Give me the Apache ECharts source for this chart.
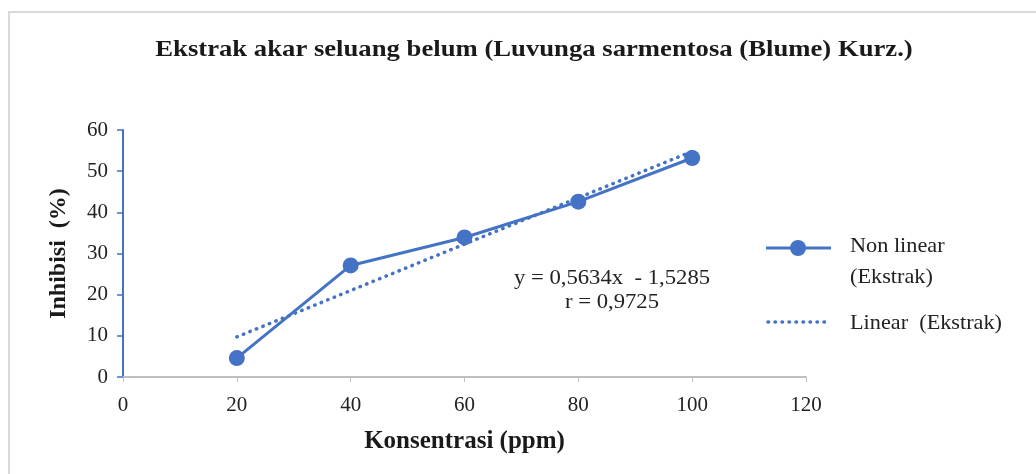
<!DOCTYPE html>
<html>
<head>
<meta charset="utf-8">
<script src="https://cdn.jsdelivr.net/npm/echarts@6/dist/echarts.min.js"></script>
<style>
  html, body { margin: 0; padding: 0; background: #fff; }
  #chart { width: 1036px; height: 474px; }
</style>
</head>
<body>
<div id="chart"></div>
<script>
// Concentration (ppm) and measured inhibition (%)
const konsentrasi = [20, 40, 60, 80, 100];
const inhibisi = [4.6, 27.1, 33.9, 42.6, 53.2];

// Linear regression coefficients as printed on the chart
const slope = 0.5634;
const intercept = -1.5285;
const rValue = '0,9725';

const xTicks = [0, 20, 40, 60, 80, 100, 120];
const yTicks = [0, 10, 20, 30, 40, 50, 60];

const blue = '#4472C4';
const serif = '"Liberation Serif", "Times New Roman", serif';
const ink = '#1a1a1a';
const dots = [0.5, 6.5];

const measured = konsentrasi.map((x, i) => [x, inhibisi[i]]);
const xFirst = konsentrasi[0];
const xLast = konsentrasi[konsentrasi.length - 1];
const trend = [
  [xFirst, slope * xFirst + intercept],
  [xLast, slope * xLast + intercept]
];

const chart = echarts.init(document.getElementById('chart'), null, { renderer: 'canvas' });

chart.setOption({
  animation: false,
  backgroundColor: '#fff',
  grid: { left: 123, right: 230, top: 130, bottom: 97 },
  xAxis: {
    type: 'value',
    min: xTicks[0],
    max: xTicks[xTicks.length - 1],
    interval: 20,
    name: 'Konsentrasi (ppm)',
    nameLocation: 'middle',
    nameGap: 52,
    nameTextStyle: { fontFamily: serif, fontWeight: 'bold', fontSize: 25, color: ink },
    axisLine: { show: true, onZero: false, lineStyle: { color: '#bfbfbf', width: 2 } },
    axisTick: { show: true, length: 5, lineStyle: { color: '#bfbfbf', width: 1 } },
    axisLabel: { fontFamily: serif, fontSize: 21, color: '#222', margin: 18 },
    splitLine: { show: false }
  },
  yAxis: {
    type: 'value',
    min: yTicks[0],
    max: yTicks[yTicks.length - 1],
    interval: 10,
    name: 'Inhibisi  (%)',
    nameLocation: 'middle',
    nameGap: 52,
    nameTextStyle: { fontFamily: serif, fontWeight: 'bold', fontSize: 24, color: ink },
    axisLine: { show: true, lineStyle: { color: blue, width: 2 } },
    axisTick: { show: true, length: 6, lineStyle: { color: blue, width: 1.5 } },
    axisLabel: { fontFamily: serif, fontSize: 21, color: '#222', margin: 15 },
    splitLine: { show: false }
  },
  series: [
    {
      name: 'Linear  (Ekstrak)',
      type: 'line',
      data: trend,
      symbol: 'none',
      z: 2,
      lineStyle: { color: blue, width: 3.5, type: dots, cap: 'round' }
    },
    {
      name: 'Non linear (Ekstrak)',
      type: 'line',
      data: measured,
      symbol: 'circle',
      symbolSize: 16,
      z: 3,
      itemStyle: { color: blue },
      lineStyle: { color: blue, width: 3 }
    }
  ],
  graphic: [
    // chart frame edges
    { type: 'line', shape: { x1: 8, y1: 12, x2: 1036, y2: 12 }, style: { stroke: '#d9d9d9', lineWidth: 2 } },
    { type: 'line', shape: { x1: 9, y1: 12, x2: 9, y2: 474 }, style: { stroke: '#d9d9d9', lineWidth: 2 } },
    // title
    {
      type: 'text', x: 534, y: 50, scaleX: 1.16,
      style: {
        text: 'Ekstrak akar seluang belum (Luvunga sarmentosa (Blume) Kurz.)',
        align: 'center', verticalAlign: 'middle',
        fontFamily: serif, fontWeight: 'bold', fontSize: 23, fill: ink
      }
    },
    // regression equation
    {
      type: 'text', x: 612, y: 266, scaleX: 1.08,
      style: {
        text: 'y = 0,5634x  - 1,5285\nr = ' + rValue,
        align: 'center',
        fontFamily: serif, fontSize: 21, lineHeight: 24, fill: '#222'
      }
    },
    // legend
    { type: 'line', shape: { x1: 766, y1: 248, x2: 831, y2: 248 }, style: { stroke: blue, lineWidth: 3 } },
    { type: 'circle', shape: { cx: 798, cy: 248, r: 8 }, style: { fill: blue } },
    {
      type: 'text', x: 850, y: 231, scaleX: 1.06,
      style: { text: 'Non linear\n(Ekstrak)', fontFamily: serif, fontSize: 21, lineHeight: 31, fill: '#222' }
    },
    { type: 'line', shape: { x1: 768, y1: 322, x2: 831, y2: 322 }, style: { stroke: blue, lineWidth: 3.5, lineDash: dots, lineCap: 'round' } },
    {
      type: 'text', x: 850, y: 323, scaleX: 1.06,
      style: { text: 'Linear  (Ekstrak)', verticalAlign: 'middle', fontFamily: serif, fontSize: 21, fill: '#222' }
    }
  ]
});
</script>
</body>
</html>
